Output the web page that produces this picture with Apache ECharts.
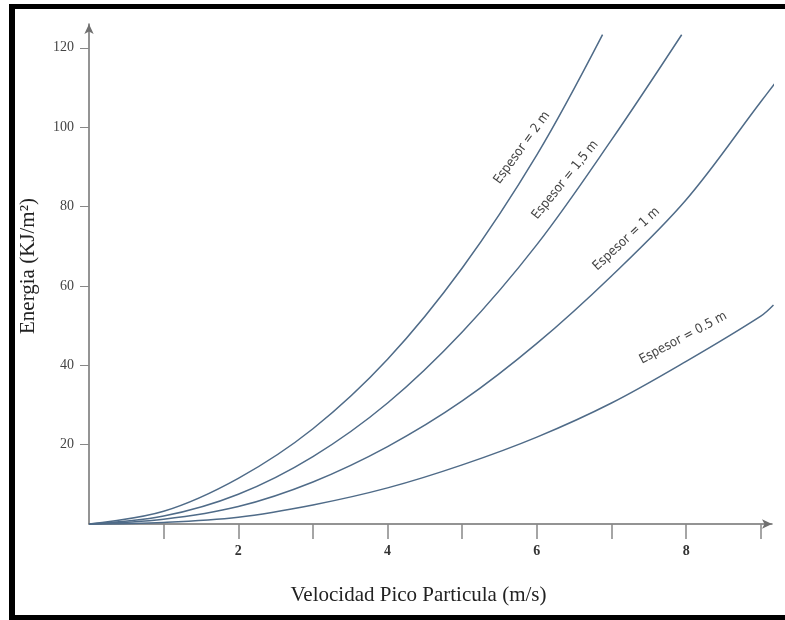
<!DOCTYPE html>
<html>
<head>
<meta charset="utf-8">
<script src="https://cdn.jsdelivr.net/npm/echarts@6/dist/echarts.min.js"></script>
<style>
html, body { margin: 0; padding: 0; background: #fff; overflow: hidden; }
#frame_top { position: absolute; left: 9px; top: 4px; width: 776px; height: 5px; background: #000; }
#frame_left { position: absolute; left: 9px; top: 4px; width: 6px; height: 616px; background: #000; }
#frame_bottom { position: absolute; left: 9px; top: 615px; width: 776px; height: 5px; background: #000; }
#chart { position: absolute; left: 0; top: 0; width: 785px; height: 620px; }
</style>
</head>
<body>
<div id="frame_top"></div>
<div id="frame_left"></div>
<div id="frame_bottom"></div>
<div id="chart"></div>
<script>
// velocity (m/s) and energy (KJ/m2)
var vel_2m = [0, 1, 2, 3, 4, 5, 6, 6.88];
var ene_2m = [0, 3.2, 11.5, 24.0, 41.5, 64.5, 93.0, 123.3];

var vel_15m = [0, 1, 2, 3, 4, 5, 6, 7, 7.94];
var ene_15m = [0, 2.0, 7.5, 17.0, 30.5, 48.4, 70.4, 96.8, 123.3];

var vel_1m = [0, 1, 2, 3, 4, 5, 6, 7, 8, 9, 9.2];
var ene_1m = [0, 1.2, 4.4, 10.6, 19.5, 31.0, 45.5, 62.5, 81.7, 106.4, 111.3];

var vel_05m = [0, 1, 2, 3, 4, 5, 6, 7, 8, 9, 9.17];
var ene_05m = [0, 0.4, 1.7, 4.8, 9.1, 14.9, 21.9, 30.5, 41.0, 52.4, 55.2];

var names = ["Espesor = 2 m", "Espesor = 1,5 m", "Espesor = 1 m", "Espesor = 0.5 m"];

var x_ticks = [1, 2, 3, 4, 5, 6, 7, 8, 9];
var x_labels = [2, 4, 6, 8];
var y_ticks = [20, 40, 60, 80, 100, 120];

// where each curve's name sits (data coords) and its angle
var label_x = [5.80, 6.38, 7.20, 7.96];
var label_y = [94.8, 86.7, 71.8, 46.9];
var label_rot = [54, 51, 43, 28];

function pairs(xs, ys) {
    var out = [];
    for (var i = 0; i < xs.length; i++) out.push([xs[i], ys[i]]);
    return out;
}

var all_vel = [vel_2m, vel_15m, vel_1m, vel_05m];
var all_ene = [ene_2m, ene_15m, ene_1m, ene_05m];

var series = [];
for (var i = 0; i < names.length; i++) {
    series.push({
        name: names[i],
        type: "line",
        data: pairs(all_vel[i], all_ene[i]),
        smooth: 0.35,
        symbol: "none",
        clip: false,
        lineStyle: { color: "#4f6b88", width: 1.5 },
        markPoint: {
            silent: true,
            symbol: "circle",
            symbolSize: 0,
            data: [{ coord: [label_x[i], label_y[i]] }],
            label: {
                show: true,
                position: "inside",
                rotate: label_rot[i],
                formatter: names[i],
                fontFamily: "'Liberation Sans Narrow', 'DejaVu Sans Condensed', 'Liberation Sans', sans-serif",
                fontSize: 13,
                color: "#444"
            }
        }
    });
}

var option = {
    animation: false,
    grid: { left: 89, right: 13, top: 24, bottom: 96 },
    xAxis: {
        type: "value",
        min: 0,
        max: 9.15,
        name: "Velocidad Pico Particula (m/s)",
        nameLocation: "middle",
        nameGap: 61,
        nameTextStyle: {
            fontFamily: "'Liberation Serif', serif", fontSize: 21, color: "#222",
            padding: [0, 24, 0, 0]
        },
        axisLine: {
            show: true,
            symbol: ["none", "arrow"],
            symbolSize: [7, 10],
            lineStyle: { color: "#707070", width: 1.5 }
        },
        axisTick: {
            show: true,
            customValues: x_ticks,
            length: 15,
            lineStyle: { color: "#888", width: 1.5 }
        },
        axisLabel: {
            customValues: x_labels,
            margin: 20,
            fontFamily: "'Liberation Serif', serif",
            fontSize: 14,
            fontWeight: "bold",
            color: "#333"
        },
        splitLine: { show: false }
    },
    yAxis: {
        type: "value",
        min: 0,
        max: 126,
        name: "Energia (KJ/m²)",
        nameLocation: "middle",
        nameGap: 50,
        nameRotate: 90,
        nameTextStyle: {
            fontFamily: "'Liberation Serif', serif", fontSize: 21, color: "#222",
            padding: [0, 0, 0, 16]
        },
        axisLine: {
            show: true,
            symbol: ["none", "arrow"],
            symbolSize: [7, 10],
            lineStyle: { color: "#707070", width: 1.5 }
        },
        axisTick: {
            show: true,
            customValues: y_ticks,
            length: 9,
            lineStyle: { color: "#888", width: 1 }
        },
        axisLabel: {
            customValues: y_ticks,
            margin: 15,
            fontFamily: "'Liberation Serif', serif",
            fontSize: 14,
            color: "#444"
        },
        splitLine: { show: false }
    },
    series: series
};

var myChart = echarts.init(document.getElementById("chart"));
myChart.setOption(option);
</script>
</body>
</html>
